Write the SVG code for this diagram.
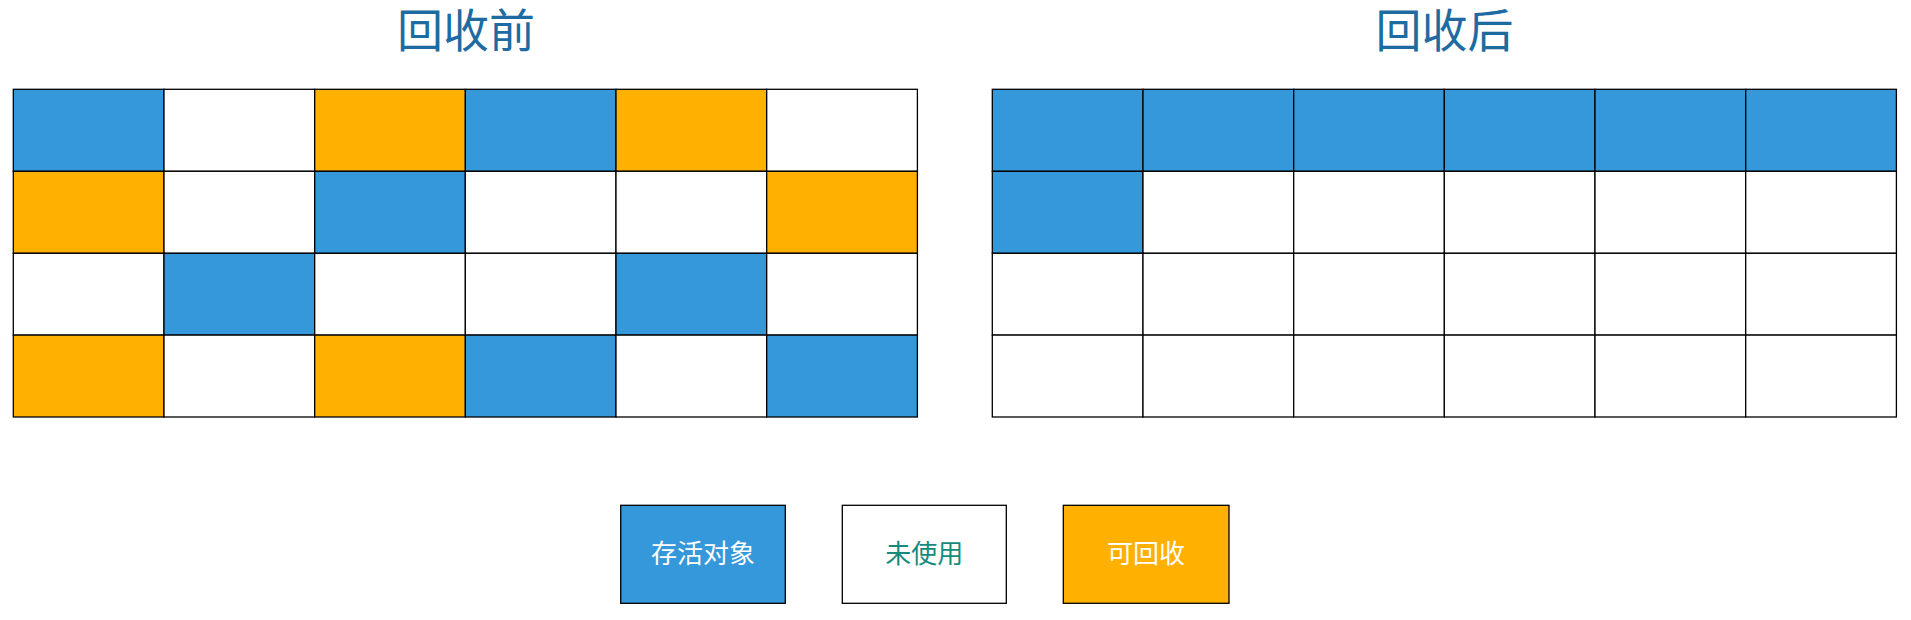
<svg xmlns="http://www.w3.org/2000/svg" width="1911" height="620" viewBox="0 0 1911 620">
<style>
.c{stroke:#000;stroke-width:1.3}
.b{fill:#3598db}
.w{fill:#fff}
.o{fill:#ffb000}
.t{font-family:"Noto Sans CJK SC","Noto Sans",sans-serif;font-size:46px;fill:#1e6ba1;text-anchor:middle}
.l{font-family:"Noto Sans CJK SC","Noto Sans",sans-serif;font-size:26px;text-anchor:middle}
</style>
<rect width="1911" height="620" fill="#fff"/>
<g id="title-before"><text class="t" x="466" y="47">回收前</text></g>
<g id="title-after"><text class="t" x="1444.5" y="47">回收后</text></g>
<g id="grid-before">
<rect class="c b" x="13.3" y="89.3" width="150.7" height="82"/>
<rect class="c w" x="164" y="89.3" width="150.7" height="82"/>
<rect class="c o" x="314.7" y="89.3" width="150.7" height="82"/>
<rect class="c b" x="465.3" y="89.3" width="150.7" height="82"/>
<rect class="c o" x="616" y="89.3" width="150.7" height="82"/>
<rect class="c w" x="766.7" y="89.3" width="150.7" height="82"/>
<rect class="c o" x="13.3" y="171.3" width="150.7" height="82"/>
<rect class="c w" x="164" y="171.3" width="150.7" height="82"/>
<rect class="c b" x="314.7" y="171.3" width="150.7" height="82"/>
<rect class="c w" x="465.3" y="171.3" width="150.7" height="82"/>
<rect class="c w" x="616" y="171.3" width="150.7" height="82"/>
<rect class="c o" x="766.7" y="171.3" width="150.7" height="82"/>
<rect class="c w" x="13.3" y="253.3" width="150.7" height="81.8"/>
<rect class="c b" x="164" y="253.3" width="150.7" height="81.8"/>
<rect class="c w" x="314.7" y="253.3" width="150.7" height="81.8"/>
<rect class="c w" x="465.3" y="253.3" width="150.7" height="81.8"/>
<rect class="c b" x="616" y="253.3" width="150.7" height="81.8"/>
<rect class="c w" x="766.7" y="253.3" width="150.7" height="81.8"/>
<rect class="c o" x="13.3" y="335.1" width="150.7" height="81.9"/>
<rect class="c w" x="164" y="335.1" width="150.7" height="81.9"/>
<rect class="c o" x="314.7" y="335.1" width="150.7" height="81.9"/>
<rect class="c b" x="465.3" y="335.1" width="150.7" height="81.9"/>
<rect class="c w" x="616" y="335.1" width="150.7" height="81.9"/>
<rect class="c b" x="766.7" y="335.1" width="150.7" height="81.9"/>
</g>
<g id="grid-after">
<rect class="c b" x="992.3" y="89.3" width="150.7" height="82"/>
<rect class="c b" x="1143" y="89.3" width="150.7" height="82"/>
<rect class="c b" x="1293.7" y="89.3" width="150.7" height="82"/>
<rect class="c b" x="1444.3" y="89.3" width="150.7" height="82"/>
<rect class="c b" x="1595" y="89.3" width="150.7" height="82"/>
<rect class="c b" x="1745.7" y="89.3" width="150.7" height="82"/>
<rect class="c b" x="992.3" y="171.3" width="150.7" height="82"/>
<rect class="c w" x="1143" y="171.3" width="150.7" height="82"/>
<rect class="c w" x="1293.7" y="171.3" width="150.7" height="82"/>
<rect class="c w" x="1444.3" y="171.3" width="150.7" height="82"/>
<rect class="c w" x="1595" y="171.3" width="150.7" height="82"/>
<rect class="c w" x="1745.7" y="171.3" width="150.7" height="82"/>
<rect class="c w" x="992.3" y="253.3" width="150.7" height="81.8"/>
<rect class="c w" x="1143" y="253.3" width="150.7" height="81.8"/>
<rect class="c w" x="1293.7" y="253.3" width="150.7" height="81.8"/>
<rect class="c w" x="1444.3" y="253.3" width="150.7" height="81.8"/>
<rect class="c w" x="1595" y="253.3" width="150.7" height="81.8"/>
<rect class="c w" x="1745.7" y="253.3" width="150.7" height="81.8"/>
<rect class="c w" x="992.3" y="335.1" width="150.7" height="81.9"/>
<rect class="c w" x="1143" y="335.1" width="150.7" height="81.9"/>
<rect class="c w" x="1293.7" y="335.1" width="150.7" height="81.9"/>
<rect class="c w" x="1444.3" y="335.1" width="150.7" height="81.9"/>
<rect class="c w" x="1595" y="335.1" width="150.7" height="81.9"/>
<rect class="c w" x="1745.7" y="335.1" width="150.7" height="81.9"/>
</g>
<g id="legend-alive">
<rect class="c b" x="620.7" y="505.3" width="164.6" height="98"/>
<text class="l" x="703" y="562.5" fill="#fff">存活对象</text>
</g>
<g id="legend-unused">
<rect class="c w" x="842.3" y="505.3" width="164" height="98"/>
<text class="l" x="924.3" y="562.5" fill="#178a7c">未使用</text>
</g>
<g id="legend-reclaimable">
<rect class="c o" x="1063.3" y="505.3" width="165.7" height="98"/>
<text class="l" x="1146" y="562.5" fill="#fff">可回收</text>
</g>
</svg>
